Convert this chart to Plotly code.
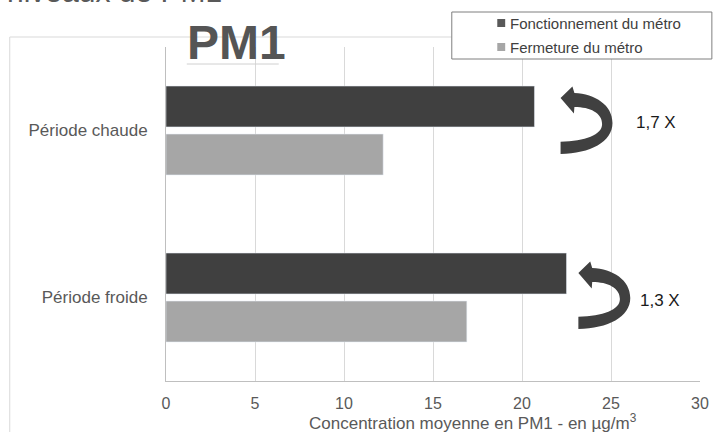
import plotly.graph_objects as go

# ---- data ----
categories = ["Période chaude", "Période froide"]
fonctionnement = [20.7, 22.5]   # Fonctionnement du métro
fermeture = [12.2, 16.9]        # Fermeture du métro
series_names = ["Fonctionnement du métro", "Fermeture du métro"]
ratio_labels = ["1,7 X", "1,3 X"]
x_ticks = [0, 5, 10, 15, 20, 25, 30]

W, H = 721, 432
ML, MR, MT, MB = 166, 15, 47, 51
PW, PH = W - ML - MR, H - MT - MB

def px(x):
    return (x - ML) / PW

def py(y):
    return (H - MB - y) / PH

DARK = "#404040"
LIGHT = "#A6A6A6"
FONT = "Liberation Sans, Arial, sans-serif"

fig = go.Figure()
fig.add_trace(go.Bar(y=categories, x=fonctionnement, orientation="h", name=series_names[0],
                     marker=dict(color=DARK), showlegend=False))
fig.add_trace(go.Bar(y=categories, x=fermeture, orientation="h", name=series_names[1],
                     marker=dict(color=LIGHT), showlegend=False))

shapes = []
annotations = []

# chart frame (top and left edges)
shapes.append(dict(type="line", xref="paper", yref="paper", x0=px(8), x1=px(455), y0=py(37), y1=py(37),
                   line=dict(color="#D9D9D9", width=1)))
shapes.append(dict(type="line", xref="paper", yref="paper", x0=px(8), x1=px(8), y0=py(37), y1=py(440),
                   line=dict(color="#D9D9D9", width=1)))

# legend box (manual)
shapes.append(dict(type="rect", xref="paper", yref="paper", x0=px(455), x1=px(718), y0=py(12), y1=py(59),
                   line=dict(color="#7F7F7F", width=1), fillcolor="white"))
leg_colors = ["#595959", LIGHT]
for i, (name, c) in enumerate(zip(series_names, leg_colors)):
    cy = 23 + i * 24
    shapes.append(dict(type="rect", xref="paper", yref="paper", x0=px(501), x1=px(509),
                       y0=py(cy - 4), y1=py(cy + 4), line=dict(width=0), fillcolor=c))
    annotations.append(dict(text=name, xref="paper", yref="paper", x=px(512), y=py(cy),
                            xanchor="left", yanchor="middle", showarrow=False,
                            font=dict(family=FONT, size=15, color="#404040")))

# curved arrows
def arrow_path(dx, dy):
    pts = [
        ("M", [(565, 98)]),
        ("L", [(577, 86.5)]),
        ("L", [(579, 93)]),
        ("C", [(600, 94), (617.5, 105), (617.5, 123)]),
        ("C", [(617.5, 142), (595, 153.5), (565, 154)]),
        ("L", [(565, 141.7)]),
        ("C", [(590, 141), (607, 135), (607, 124)]),
        ("C", [(607, 113), (595, 107), (579, 107)]),
        ("L", [(578.5, 113.5)]),
    ]
    s = ""
    for cmd, ps in pts:
        s += cmd + " ".join(f"{px(x + dx):.5f},{py(y + dy):.5f}" for x, y in ps) + " "
    return s + "Z"

arrow_offsets = [(0, 0), (18, 175)]
label_pos = [(662, 122), (666, 300)]
for (dx, dy), lab, (lx, ly) in zip(arrow_offsets, ratio_labels, label_pos):
    shapes.append(dict(type="path", xref="paper", yref="paper", path=arrow_path(dx, dy),
                       fillcolor=DARK, line=dict(width=0)))
    annotations.append(dict(text=lab, xref="paper", yref="paper", x=px(lx), y=py(ly),
                            xanchor="center", yanchor="middle", showarrow=False,
                            font=dict(family=FONT, size=17, color="#1A1A1A")))

# PM1 logo
annotations.append(dict(text="<b>PM1</b>", xref="paper", yref="paper", x=px(185), y=py(43),
                        xanchor="left", yanchor="middle", showarrow=False,
                        font=dict(family=FONT, size=48, color="#555555")))
shapes.append(dict(type="line", xref="paper", yref="paper", x0=px(187), x1=px(280), y0=py(64), y1=py(64),
                   line=dict(color="#D0D0D0", width=1)))

# cut-off title at the very top
annotations.append(dict(text="niveaux de PM1", xref="paper", yref="paper", x=px(3), y=py(10),
                        xanchor="left", yanchor="bottom", showarrow=False,
                        font=dict(family=FONT, size=30, color="#595959")))

# x axis title
annotations.append(dict(text="Concentration moyenne en PM1 - en µg/m<sup>3</sup>", xref="paper", yref="paper",
                        x=px(309), y=py(422), xanchor="left", yanchor="middle", showarrow=False,
                        font=dict(family=FONT, size=17, color="#595959")))

fig.update_layout(
    width=W, height=H,
    margin=dict(l=ML, r=MR, t=MT, b=MB, pad=0),
    paper_bgcolor="white", plot_bgcolor="white",
    barmode="group", bargap=0.425, bargroupgap=0.15,
    showlegend=False,
    shapes=shapes, annotations=annotations,
    font=dict(family=FONT, size=16, color="#595959"),
    xaxis=dict(range=[0, 30], tickvals=x_ticks, ticktext=[str(v) for v in x_ticks],
               showgrid=True, gridcolor="#D9D9D9", gridwidth=1,
               showline=True, linecolor="#BFBFBF", linewidth=1, zeroline=False,
               ticks="outside", ticklen=8, tickcolor="rgba(0,0,0,0)",
               tickfont=dict(family=FONT, size=16, color="#595959"), fixedrange=True),
    yaxis=dict(type="category", categoryorder="array", categoryarray=categories, autorange="reversed",
               showgrid=False, showline=True, linecolor="#BFBFBF", linewidth=1,
               ticks="outside", ticklen=14, tickcolor="rgba(0,0,0,0)",
               tickfont=dict(family=FONT, size=17, color="#595959"), fixedrange=True),
)

fig.write_html("out.html", config={"displayModeBar": False},
               post_script="document.body.style.margin='0';")
